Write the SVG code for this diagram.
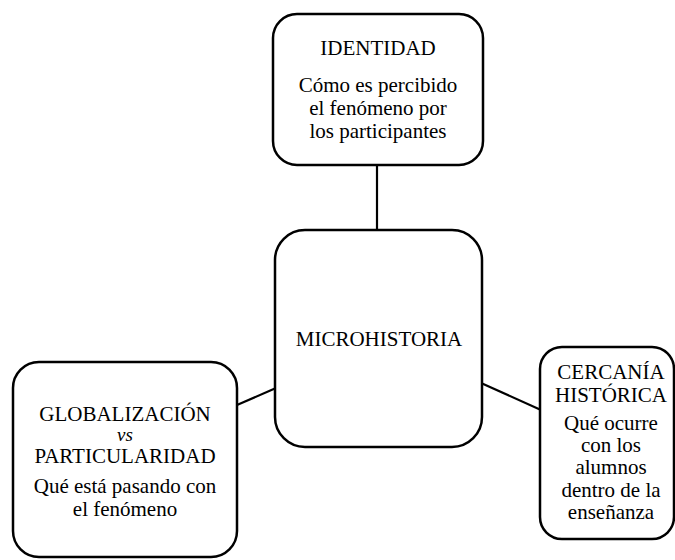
<svg xmlns="http://www.w3.org/2000/svg" width="675" height="560" viewBox="0 0 675 560">
<style>
.box{fill:#fff;stroke:#000;stroke-width:2.5}
.ln{stroke:#000;stroke-width:2.2;fill:none}
text{font-family:'Liberation Serif','Times New Roman','DejaVu Serif',serif;font-size:21px;fill:#000;text-anchor:middle}
.it{font-style:italic;font-size:19px}
</style>
<rect width="675" height="560" fill="#fff"/>
<g id="connectors">
<line class="ln" x1="377" y1="165" x2="377" y2="231"/>
<line class="ln" x1="237" y1="405" x2="276" y2="388"/>
<line class="ln" x1="481" y1="383" x2="541" y2="410"/>
</g>
<g id="identidad">
<rect class="box" x="273" y="14" width="210" height="151" rx="24"/>
<text x="378" y="55">IDENTIDAD</text>
<text x="378" y="92">Cómo es percibido</text>
<text x="378" y="115">el fenómeno por</text>
<text x="378" y="138">los participantes</text>
</g>
<g id="microhistoria">
<rect class="box" x="275" y="230" width="207" height="217" rx="30"/>
<text x="379" y="346">MICROHISTORIA</text>
</g>
<g id="globalizacion">
<rect class="box" x="13" y="362" width="224" height="195" rx="26"/>
<text x="125" y="421">GLOBALIZACIÓN</text>
<text class="it" x="125" y="441">vs</text>
<text x="125" y="463">PARTICULARIDAD</text>
<text x="125" y="493">Qué está pasando con</text>
<text x="125" y="516">el fenómeno</text>
</g>
<g id="cercania">
<rect class="box" x="540" y="347" width="134" height="192" rx="22"/>
<text x="611" y="379">CERCANÍA</text>
<text x="611" y="402">HISTÓRICA</text>
<text x="611" y="430">Qué ocurre</text>
<text x="611" y="452">con los</text>
<text x="611" y="474">alumnos</text>
<text x="611" y="497">dentro de la</text>
<text x="611" y="519">enseñanza</text>
</g>
</svg>
